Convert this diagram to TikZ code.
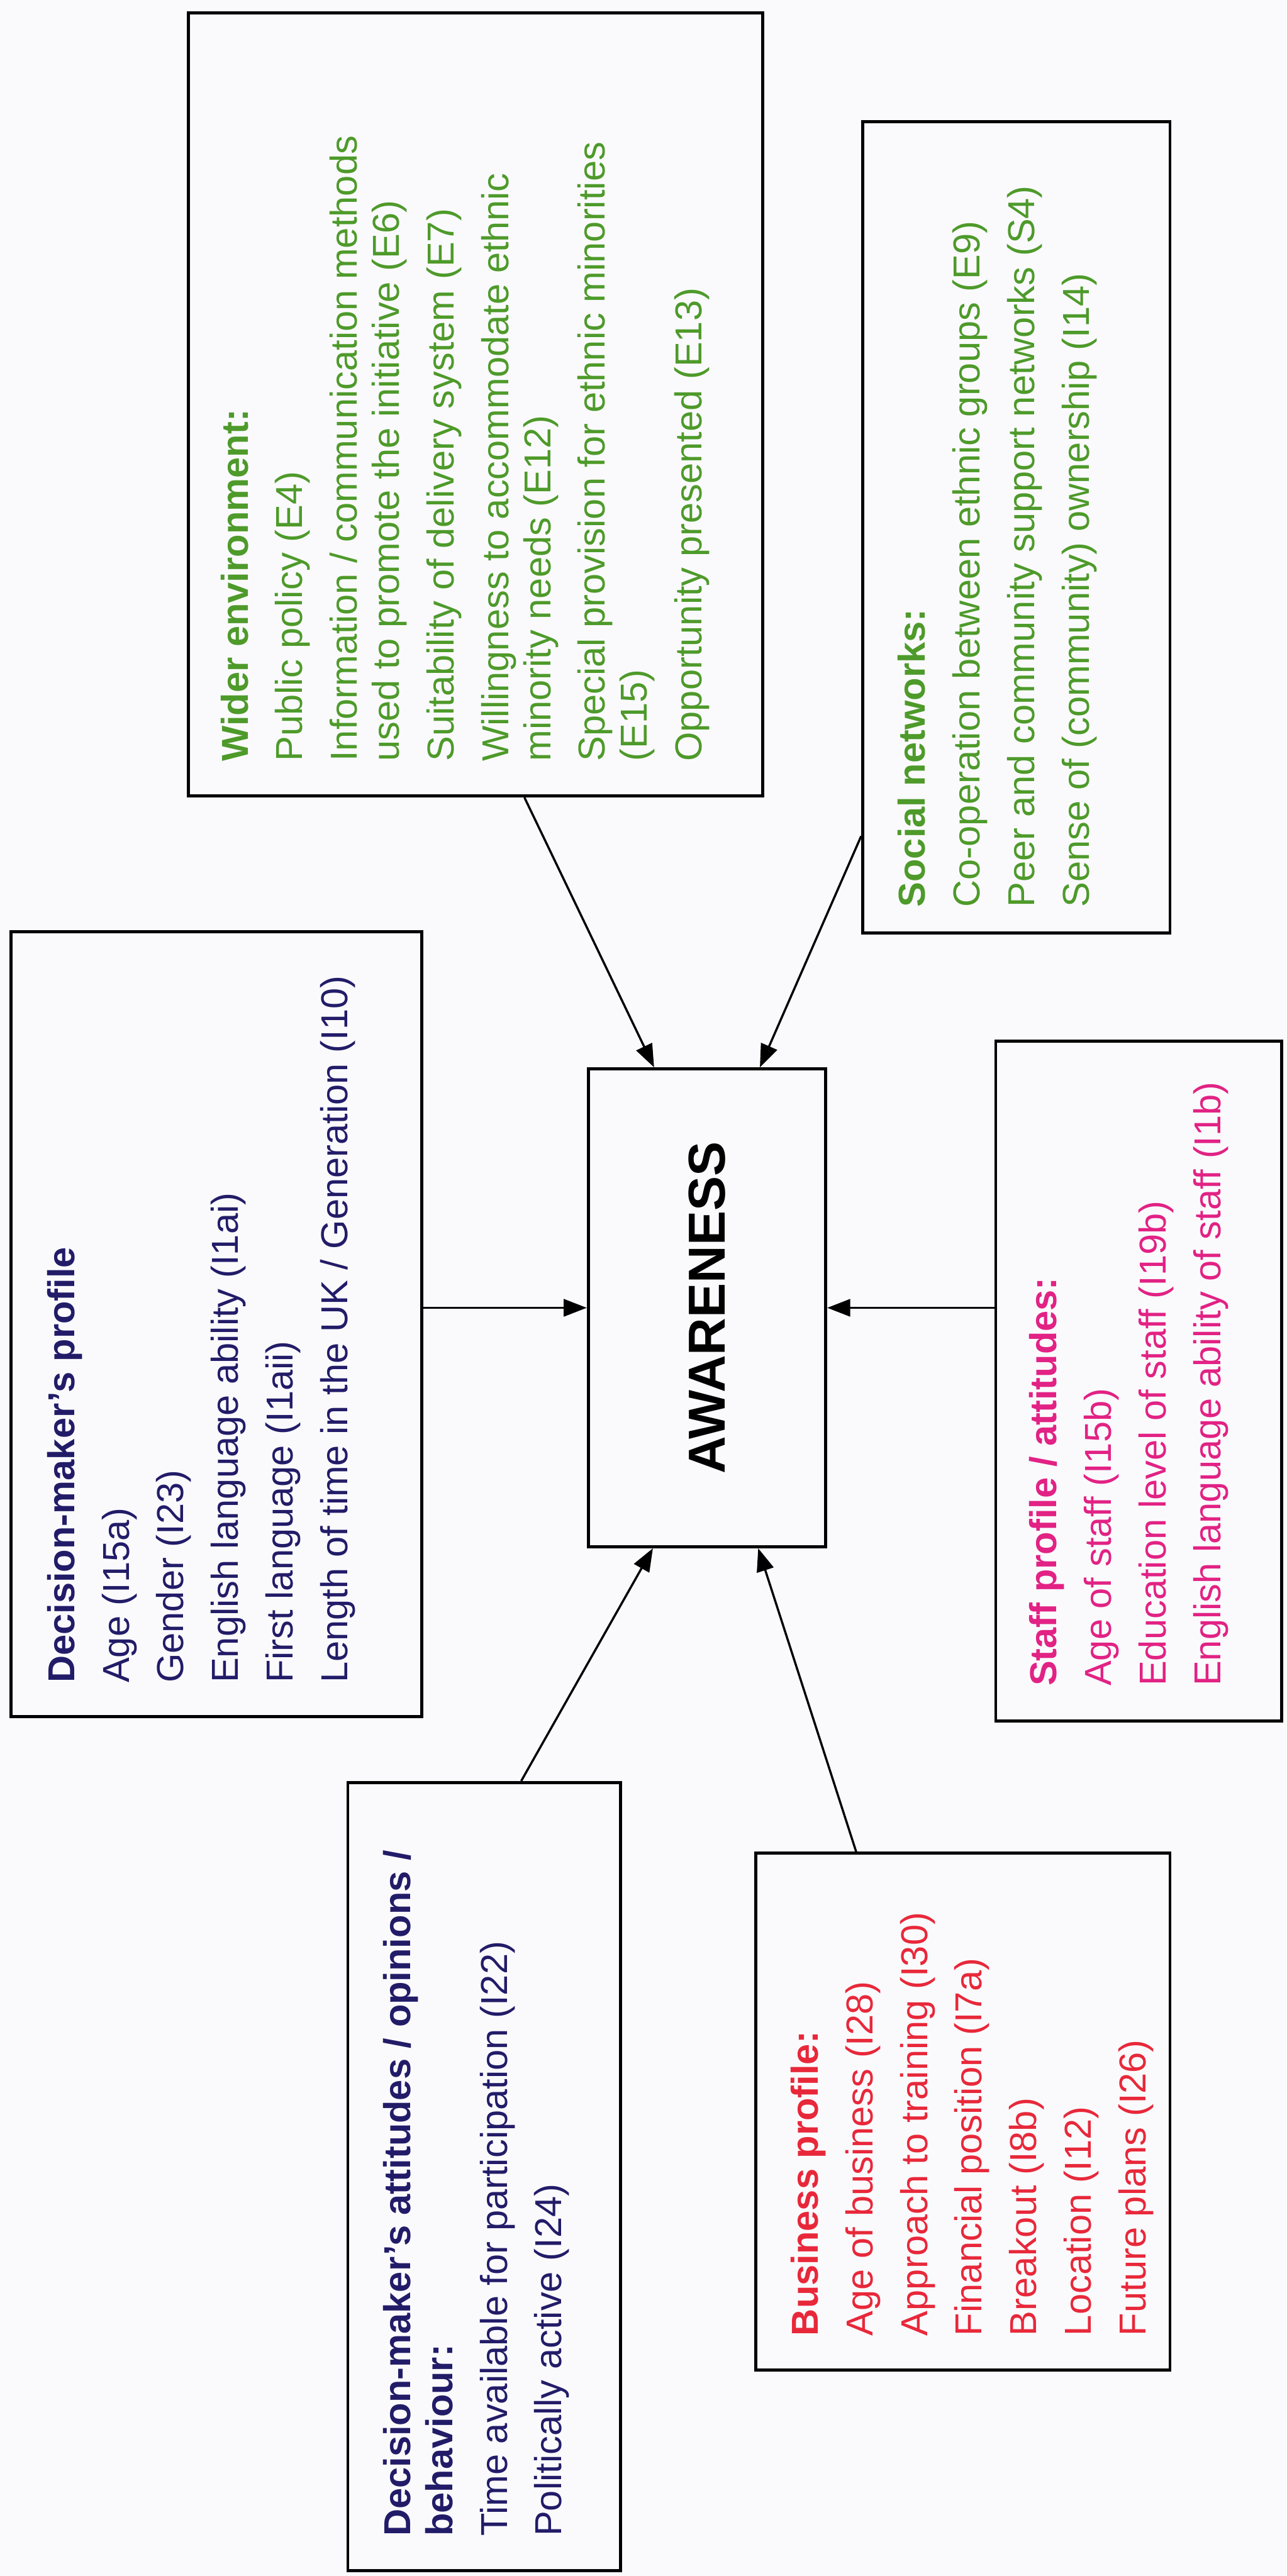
\documentclass[tikz,border=0pt]{standalone}
\usepackage{fontspec}
\setmainfont{Liberation Sans}
\usetikzlibrary{arrows.meta,calc,fit}
\definecolor{envgreen}{RGB}{78,154,42}
\definecolor{dmnavy}{RGB}{34,28,104}
\definecolor{staffpink}{RGB}{226,34,132}
\definecolor{busred}{RGB}{232,40,58}
\definecolor{paper}{RGB}{250,250,253}
\newcommand{\gapline}{\\[4.3pt]}

\begin{document}
\begin{tikzpicture}[x=0.02cm,y=0.02cm,
  frame/.style={draw, line width=1.05pt, rectangle, inner sep=0pt},
  txt/.style={rotate=90, anchor=north west, align=left, inner sep=0pt,
              font=\fontsize{13}{14.6}\selectfont},
  link/.style={line width=0.75pt, -{Triangle[length=0.28cm,width=0.21cm]}}]

% page
\useasboundingbox (0,0) rectangle (783,-1568);
\fill[paper] (0,0) rectangle (783,-1568);

% frames
\node[frame, fit={(114.6,-8) (464,-484.5)}] (wider) {};
\node[frame, fit={(525,-74) (712,-568)}] (soc) {};
\node[frame, fit={(6.7,-567) (256.6,-1045)}] (dmp) {};
\node[frame, fit={(358,-650.6) (502.5,-941.5)}] (aw) {};
\node[frame, fit={(606,-633.7) (780,-1047.5)}] (staff) {};
\node[frame, fit={(211.7,-1085) (377.7,-1564.6)}] (att) {};
\node[frame, fit={(460,-1128) (712,-1442.5)}] (bus) {};

% central label
\node[rotate=90, font=\fontsize{18}{20}\selectfont\bfseries] (awtext) at (aw.center) {AWARENESS};

% box contents
\node[txt, text=envgreen] (widertext) at (134,-463.8) {%
  \textbf{Wider environment:}\gapline
  Public policy (E4)\gapline
  Information / communication methods\\
  used to promote the initiative (E6)\gapline
  Suitability of delivery system (E7)\gapline
  Willingness to accommodate ethnic\\
  minority needs (E12)\gapline
  Special provision for ethnic minorities\\
  (E15)\gapline
  Opportunity presented (E13)};

\node[txt, text=envgreen] (soctext) at (546.2,-552.5) {%
  \textbf{Social networks:}\gapline
  Co-operation between ethnic groups (E9)\gapline
  Peer and community support networks (S4)\gapline
  Sense of (community) ownership (I14)};

\node[txt, text=dmnavy] (dmptext) at (28.4,-1024.7) {%
  \textbf{Decision-maker’s profile}\gapline
  Age (I15a)\gapline
  Gender (I23)\gapline
  English language ability (I1ai)\gapline
  First language (I1aii)\gapline
  Length of time in the UK / Generation (I10)};

\node[txt, text=staffpink] (stafftext) at (626.2,-1026.6) {%
  \textbf{Staff profile / attitudes:}\gapline
  Age of staff (I15b)\gapline
  Education level of staff (I19b)\gapline
  English language ability of staff (I1b)};

\node[txt, text=dmnavy] (atttext) at (232.8,-1544.2) {%
  \textbf{Decision-maker’s attitudes / opinions /}\\
  \textbf{behaviour:}\gapline
  Time available for participation (I22)\gapline
  Politically active (I24)};

\node[txt, text=busred] (bustext) at (481,-1422.1) {%
  \textbf{Business profile:}\gapline
  Age of business (I28)\gapline
  Approach to training (I30)\gapline
  Financial position (I7a)\gapline
  Breakout (I8b)\gapline
  Location (I12)\gapline
  Future plans (I26)};

% influences on awareness
\draw[link] ($(wider.south west)!0.585!(wider.south east)$) -- ($(aw.north west)!0.28!(aw.north east)$);
\draw[link] ($(soc.north west)!0.879!(soc.south west)$) -- ($(aw.north west)!0.72!(aw.north east)$);
\draw[link] (dmp.east |- aw.west) -- (aw.west);
\draw[link] (staff.west |- aw.east) -- (aw.east);
\draw[link] ($(att.north west)!0.634!(att.north east)$) -- ($(aw.south west)!0.275!(aw.south east)$);
\draw[link] ($(bus.north west)!0.244!(bus.north east)$) -- ($(aw.south west)!0.713!(aw.south east)$);
\end{tikzpicture}
\end{document}
